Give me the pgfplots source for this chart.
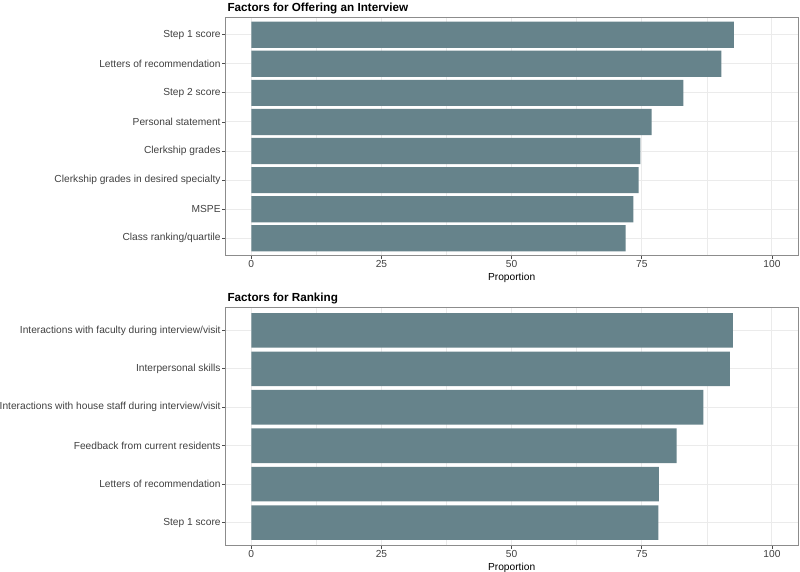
\documentclass[border=0pt]{standalone}
\usepackage{pgfplots}
\pgfplotsset{compat=1.18}
\usepackage{fontspec}
\setmainfont{Liberation Sans}
\definecolor{barfill}{HTML}{66838B}
\definecolor{gridmaj}{HTML}{EBEBEB}
\begin{document}
\begin{tikzpicture}
\useasboundingbox (0pt,0pt) rectangle (800pt,-572pt);
\pgfplotsset{
  factors/.style={
    scale only axis, width=572.7pt, height=238.4pt,
    xmin=-5, xmax=105, ymin=0.4,
    xbar, bar width=0.9, bar shift=0pt,
    xtick={0,25,50,75,100}, minor xtick={12.5,37.5,62.5,87.5},
    xtick pos=lower, ytick pos=left,
    xmajorgrids, xminorgrids, ymajorgrids,
    major grid style={gridmaj, line width=1pt},
    minor grid style={gridmaj, line width=0.5pt},
    minor tick length=0pt,
    axis line style={black!45, line width=0.8pt},
    major tick style={black!70, line width=0.8pt},
    major tick length=3pt, tick align=outside,
    /pgf/number format/assume math mode=true,
    tick label style={font=\fontsize{10.2}{12}\selectfont, text=black!75},
    xticklabel style={inner ysep=1.8pt},
    yticklabel style={inner xsep=1.5pt},
    xlabel={Proportion},
    xlabel style={at={(axis description cs:0.5,0)}, anchor=north, inner sep=0pt,
      yshift=-16.8pt, font=\fontsize{10.2}{12}\selectfont},
    title style={at={(axis description cs:0,1)}, anchor=base west, inner sep=0pt,
      xshift=2pt, font=\bfseries\fontsize{11.7}{14}\selectfont},
  }
}
\begin{axis}[factors, at={(225.3pt,-255.7pt)}, anchor=south west,
  ymax=8.6, ytick={1,...,8},
  yticklabels={Class ranking/quartile, MSPE, Clerkship grades in desired specialty,
    Clerkship grades, Personal statement, Step 2 score, Letters of recommendation, Step 1 score},
  title={Factors for Offering an Interview}]
\addplot[fill=barfill, draw=none] coordinates {
  (71.9,1) (73.4,2) (74.4,3) (74.7,4) (76.9,5) (83.0,6) (90.3,7) (92.7,8)};
\end{axis}
\begin{axis}[factors, at={(225.3pt,-545.7pt)}, anchor=south west,
  ymax=6.6, ytick={1,...,6},
  yticklabels={Step 1 score, Letters of recommendation, Feedback from current residents,
    Interactions with house staff during interview/visit, Interpersonal skills,
    Interactions with faculty during interview/visit},
  title={Factors for Ranking}]
\addplot[fill=barfill, draw=none] coordinates {
  (78.2,1) (78.3,2) (81.7,3) (86.8,4) (91.9,5) (92.5,6)};
\end{axis}
\end{tikzpicture}
\end{document}
